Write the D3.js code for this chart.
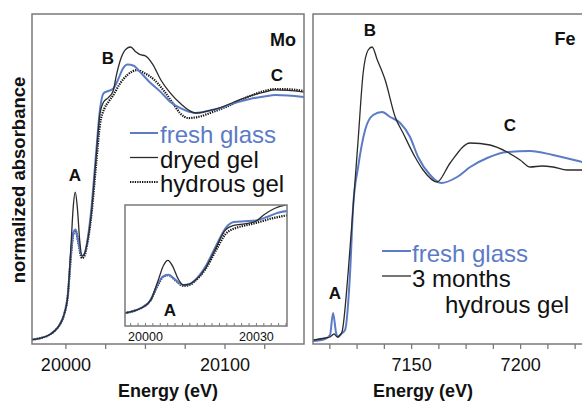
<!DOCTYPE html>
<html>
<head>
<meta charset="utf-8">
<script src="https://cdn.jsdelivr.net/npm/d3@7"></script>
<style>
    body { margin: 0; background: #fff; }
    svg { display: block; font-family: "Liberation Sans", Arial, sans-serif; }
</style>
</head>
<body>
<div id="chart-area"></div>
<script>

// Mo K-edge spectra: [energy (eV), normalized absorbance]
const moFresh = [
    [19979, 0.02], [19985, 0.028], [19990, 0.042], [19994, 0.065], [19997, 0.095], [19999, 0.13],
    [20001.5, 0.22], [20003.6, 0.42], [20005, 0.505], [20006.4, 0.52], [20008, 0.47], [20010.4, 0.40],
    [20012, 0.41], [20013.6, 0.46], [20016.4, 0.62], [20019.1, 0.85], [20021.8, 1.07], [20024, 1.14],
    [20027, 1.15], [20030, 1.16], [20033, 1.2], [20036, 1.25], [20039, 1.27], [20043, 1.265],
    [20047, 1.236], [20053, 1.19], [20060, 1.145], [20066, 1.10], [20072, 1.073], [20082, 1.05],
    [20090, 1.06], [20097.5, 1.073], [20106, 1.095], [20116, 1.114], [20125, 1.125], [20132, 1.132],
    [20140, 1.13], [20150, 1.123]
];

const moDryed = [
    [19979, 0.02], [19985, 0.028], [19990, 0.042], [19994, 0.065], [19997, 0.095], [19999, 0.13],
    [20001.5, 0.22], [20003.6, 0.46], [20005, 0.63], [20006.2, 0.69], [20007.5, 0.62], [20009, 0.47],
    [20010.4, 0.40], [20012, 0.41], [20013.6, 0.455], [20016.4, 0.60], [20019.1, 0.83], [20021.8, 1.05],
    [20024, 1.10], [20027, 1.12], [20030, 1.15], [20032, 1.22], [20035, 1.30], [20038, 1.34],
    [20041, 1.35], [20044, 1.33], [20047, 1.315], [20050.3, 1.31], [20055, 1.27], [20060, 1.2],
    [20066, 1.14], [20072, 1.095], [20082, 1.05], [20090, 1.06], [20097.5, 1.075], [20106, 1.10],
    [20116, 1.127], [20125, 1.145], [20132, 1.155], [20140, 1.153], [20150, 1.145]
];

const moHydrous = [
    [19979, 0.02], [19985, 0.028], [19990, 0.042], [19994, 0.065], [19997, 0.095], [19999, 0.13],
    [20001.5, 0.22], [20003.6, 0.41], [20005, 0.50], [20006.4, 0.515], [20008, 0.465], [20010.4, 0.39],
    [20012, 0.40], [20013.6, 0.45], [20016.4, 0.59], [20019.1, 0.80], [20021.8, 1.0], [20024.5, 1.07],
    [20027, 1.10], [20030, 1.13], [20034, 1.18], [20039, 1.223], [20045, 1.245], [20050, 1.23],
    [20056, 1.2], [20062, 1.15], [20068, 1.09], [20072, 1.05], [20077.4, 1.027], [20085, 1.035],
    [20091, 1.05], [20100, 1.075], [20116, 1.127], [20125, 1.15], [20132, 1.159], [20140, 1.158],
    [20150, 1.15]
];

// Fe K-edge spectra
const feFresh = [
    [7105, 0.015], [7110.5, 0.025], [7112.8, 0.045], [7114.2, 0.155], [7115.6, 0.055], [7116.5, 0.035],
    [7117.9, 0.05], [7119.7, 0.07], [7122.0, 0.355], [7123.4, 0.685], [7125.7, 0.885], [7128.9, 1.07],
    [7132.6, 1.145], [7136.7, 1.16], [7140.4, 1.135], [7145.0, 1.105], [7149.5, 1.035], [7153.2, 0.935],
    [7158.7, 0.845], [7163.8, 0.805], [7171.1, 0.835], [7177.1, 0.885], [7184.9, 0.93], [7194.0, 0.96],
    [7204.6, 0.965], [7215.1, 0.945], [7228.4, 0.91], [7232, 0.9]
];

const feGel = [
    [7105, 0.02], [7110.5, 0.03], [7112.8, 0.035], [7114.7, 0.05], [7116.1, 0.035], [7117.4, 0.045],
    [7118.3, 0.06], [7121.1, 0.355], [7123.4, 0.685], [7125.7, 1.02], [7128.0, 1.355], [7130.3, 1.47],
    [7132.1, 1.485], [7134.5, 1.42], [7138.1, 1.32], [7142.7, 1.135], [7146.3, 1.055], [7151.8, 0.935],
    [7155.5, 0.87], [7161.9, 0.81], [7167.9, 0.905], [7177.1, 1.005], [7186.2, 0.995], [7194.0, 0.96],
    [7200, 0.92], [7204.6, 0.885], [7210, 0.89], [7215.1, 0.885], [7221.6, 0.87], [7228.4, 0.87],
    [7232, 0.865]
];

// tick labels
const moTickLabels = [20000, 20100];
const insetTickLabels = [20000, 20030];
const feTickLabels = [7150, 7200];

const moLegend = ["fresh glass", "dryed gel", "hydrous gel"];
const feLegend = ["fresh glass", "3 months", "hydrous gel"];

const blue = "#5b7bc6",
    dark = "#2b2b2b",
    frameColor = "#7a7a7a",
    font = "'Liberation Sans', Arial, sans-serif";

let width = 582, height = 401;

let svg = d3.select("#chart-area").append("svg")
    .attr("width", width)
    .attr("height", height);

svg.append("rect").attr("width", width).attr("height", height).attr("fill", "#fff");

// ---------- scales ----------
let plotTop = 14, plotBottom = 344;

let moX = d3.scaleLinear().domain([19979, 20150]).range([32, 304]);
let moY = d3.scaleLinear().domain([0, 1.5]).range([plotBottom, plotTop]);

let inX = d3.scaleLinear().domain([19994.6, 20038.4]).range([125, 287]);
let inY = d3.scaleLinear().domain([-0.082, 1.341]).range([326, 205]);

let feX = d3.scaleLinear().domain([7105, 7232]).range([313, 589.9]);
let feY = d3.scaleLinear().domain([0, 1.65]).range([plotBottom, plotTop]);

let defs = svg.append("defs");
function clip(id, x0, x1, y0, y1) {
    defs.append("clipPath").attr("id", id)
        .append("rect")
        .attr("x", x0).attr("y", y0)
        .attr("width", x1 - x0).attr("height", y1 - y0);
}
clip("clip-mo", 32, 304, plotTop, plotBottom);
clip("clip-in", 125, 287, 205, 326);
clip("clip-fe", 313, 590, plotTop, plotBottom);

function drawLine(g, data, x, y, color, w, dash) {
    let line = d3.line()
        .curve(d3.curveMonotoneX)
        .x(d => x(d[0]))
        .y(d => y(d[1]));
    let p = g.append("path")
        .datum(data)
        .attr("d", line)
        .attr("fill", "none")
        .attr("stroke", color)
        .attr("stroke-width", w)
        .attr("stroke-linejoin", "round");
    if (dash) p.attr("stroke-dasharray", dash);
    return p;
}

function frame(x0, x1, y0, y1) {
    svg.append("rect")
        .attr("x", x0).attr("y", y0)
        .attr("width", x1 - x0).attr("height", y1 - y0)
        .attr("fill", "none")
        .attr("stroke", frameColor)
        .attr("stroke-width", 1.5);
}

function label(txt, x, y, size, weight, color, anchor) {
    return svg.append("text")
        .attr("x", x).attr("y", y)
        .attr("text-anchor", anchor || "middle")
        .attr("font-size", size)
        .attr("font-weight", weight || "normal")
        .attr("fill", color || "#111")
        .text(txt);
}

// ---------- Mo panel ----------
let moG = svg.append("g").attr("clip-path", "url(#clip-mo)");
drawLine(moG, moHydrous, moX, moY, "#111", 2.2, "1.3,1.1");
drawLine(moG, moFresh, moX, moY, blue, 2);
drawLine(moG, moDryed, moX, moY, dark, 1.3);
frame(32, 304, plotTop, plotBottom);

// Mo x axis (ticks every 25 eV, pointing down)
let moAxis = svg.append("g")
    .attr("transform", "translate(0," + plotBottom + ")")
    .call(d3.axisBottom(moX)
        .tickValues(d3.range(20000, 20150, 25))
        .tickSize(5)
        .tickFormat(d => moTickLabels.includes(d) ? d : ""));
moAxis.select(".domain").remove();
moAxis.selectAll("line").attr("stroke", frameColor).attr("stroke-width", 1.3);
moAxis.selectAll("text").attr("font-size", 18).attr("font-family", font).attr("fill", "#111").attr("dy", "1.05em");

// inset
svg.append("rect").attr("x", 125).attr("y", 205).attr("width", 162).attr("height", 121).attr("fill", "#fff");
let inG = svg.append("g").attr("clip-path", "url(#clip-in)");
drawLine(inG, moHydrous, inX, inY, "#111", 2.2, "1.3,1.1");
drawLine(inG, moFresh, inX, inY, blue, 2);
drawLine(inG, moDryed, inX, inY, dark, 1.3);
frame(125, 287, 205, 326);

let inAxis = svg.append("g")
    .attr("transform", "translate(0,326)")
    .call(d3.axisBottom(inX)
        .tickValues(d3.range(19996, 20039, 2))
        .tickSize(-3)
        .tickFormat(d => insetTickLabels.includes(d) ? d : ""));
inAxis.select(".domain").remove();
inAxis.selectAll("line").attr("stroke", frameColor);
inAxis.selectAll("text").attr("font-size", 12.5).attr("font-family", font).attr("fill", "#111").attr("y", 6);

// Mo labels
label("Mo", 283, 46, 18, "bold");
label("B", 108, 64, 17, "bold");
label("C", 277, 81, 17, "bold");
label("A", 75, 181, 17, "bold");
label("A", 170, 316, 17, "bold");

// Mo legend
let moLegendStyle = [
    {color: blue, w: 2, dash: null, text: blue},
    {color: dark, w: 1.3, dash: null, text: "#111"},
    {color: "#111", w: 2.2, dash: "1.3,1.1", text: "#111"}
];
moLegend.forEach((t, i) => {
    let yb = 143 + i * 24.5;
    let s = moLegendStyle[i];
    let l = svg.append("line")
        .attr("x1", 130).attr("x2", 158)
        .attr("y1", yb - 10).attr("y2", yb - 10)
        .attr("stroke", s.color).attr("stroke-width", s.w);
    if (s.dash) l.attr("stroke-dasharray", s.dash);
    label(t, 160, yb, 24, "normal", s.text, "start");
});

// ---------- Fe panel ----------
let feG = svg.append("g").attr("clip-path", "url(#clip-fe)");
drawLine(feG, feFresh, feX, feY, blue, 2);
drawLine(feG, feGel, feX, feY, dark, 1.3);
frame(313, 590, plotTop, plotBottom);

let feAxis = svg.append("g")
    .attr("transform", "translate(0," + plotBottom + ")")
    .call(d3.axisBottom(feX)
        .tickValues(d3.range(7112.5, 7230, 12.5))
        .tickSize(5)
        .tickFormat(d => feTickLabels.includes(d) ? d : ""));
feAxis.select(".domain").remove();
feAxis.selectAll("line").attr("stroke", frameColor).attr("stroke-width", 1.3);
feAxis.selectAll("text").attr("font-size", 18).attr("font-family", font).attr("fill", "#111").attr("dy", "1.05em");

label("B", 370, 36, 17, "bold");
label("Fe", 565, 45, 18, "bold");
label("C", 510, 131, 17, "bold");
label("A", 335, 299, 17, "bold");

// Fe legend
svg.append("line").attr("x1", 382).attr("x2", 411).attr("y1", 251).attr("y2", 251)
    .attr("stroke", blue).attr("stroke-width", 2);
svg.append("line").attr("x1", 382).attr("x2", 411).attr("y1", 276).attr("y2", 276)
    .attr("stroke", dark).attr("stroke-width", 1.3);
label(feLegend[0], 412, 262, 24, "normal", blue, "start");
label(feLegend[1], 412, 287, 24, "normal", "#111", "start");
label(feLegend[2], 445, 313, 24, "normal", "#111", "start");

// axis titles
label("Energy (eV)", 168, 397, 18, "bold");
label("Energy (eV)", 423, 397, 18, "bold");
svg.append("text")
    .attr("transform", "translate(25,180) rotate(-90)")
    .attr("text-anchor", "middle")
    .attr("font-size", 18.5)
    .attr("font-weight", "bold")
    .attr("fill", "#111")
    .text("normalized absorbance");

</script>
</body>
</html>
